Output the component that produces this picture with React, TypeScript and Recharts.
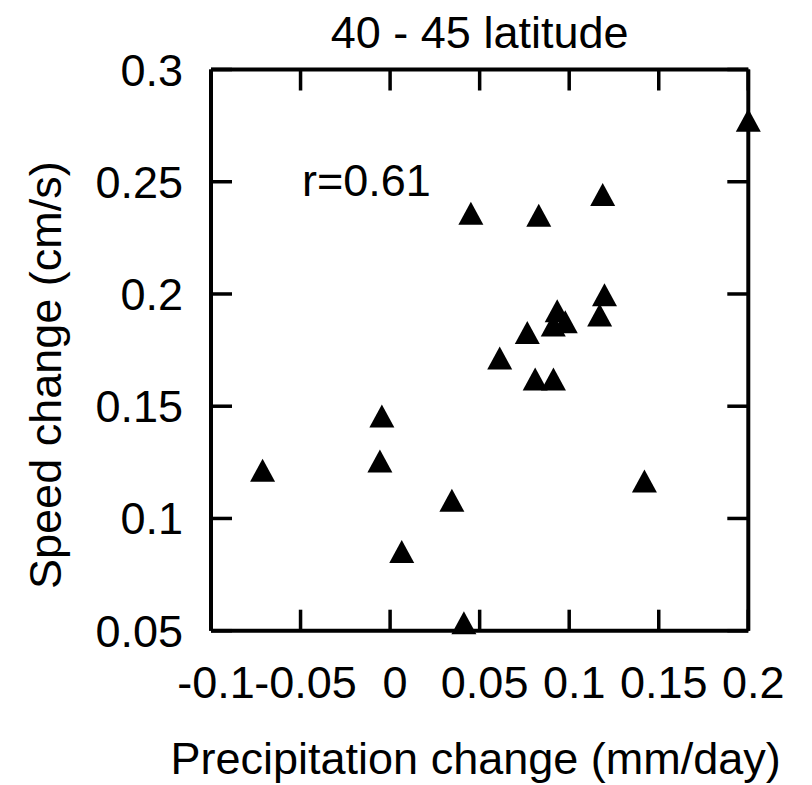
import React from 'react';
import { ScatterChart, Scatter, XAxis, YAxis, ReferenceDot, Label } from 'recharts';

// Data
const precipitation = [0.2, 0.1187, 0.0451, 0.083, 0.1197, 0.117, 0.0933, 0.0911, 0.0978, 0.0766, 0.0612, 0.081, 0.0912, -0.0046, -0.0057, -0.0712, 0.142, 0.0345, 0.0065, 0.0412];
const speed = [0.2774, 0.2443, 0.236, 0.2351, 0.1997, 0.1906, 0.1925, 0.1862, 0.1876, 0.1828, 0.1715, 0.1621, 0.1621, 0.1456, 0.1256, 0.1215, 0.1167, 0.1081, 0.0853, 0.0535];

const xTicks = [-0.1, -0.05, 0, 0.05, 0.1, 0.15, 0.2];
const xTickLabels = ['-0.1', '-0.05', '0', '0.05', '0.1', '0.15', '0.2'];
const yTicks = [0.05, 0.1, 0.15, 0.2, 0.25, 0.3];
const yTickLabels = ['0.05', '0.1', '0.15', '0.2', '0.25', '0.3'];

const title = '40 - 45 latitude';
const xLabel = 'Precipitation change (mm/day)';
const yLabel = 'Speed change (cm/s)';
const annotation = 'r=0.61';
const annotationX = -0.0486;
const annotationY = 0.2432;

const points = precipitation.map((p, i) => ({ p, s: speed[i] }));

const FONT = '"Liberation Sans", Arial, Helvetica, sans-serif';
const FS = 45;
const TICK_LEN = 21;

const findLabel = (vals: number[], labels: string[], v: number) => {
  const i = vals.findIndex((t) => Math.abs(t - v) < 1e-9);
  return i >= 0 ? labels[i] : String(v);
};

const BottomTick = (props: any) => {
  const { x, y, payload } = props;
  const nx = Number(x);
  const ny = Number(y);
  return (
    <g>
      <path d={`M${nx},${ny}L${nx},${ny - TICK_LEN}`} stroke="#000" strokeWidth={3.5} fill="none" />
      <text x={nx + 5} y={ny + 67} textAnchor="middle" fontFamily={FONT} fontSize={FS} fill="#000">
        {findLabel(xTicks, xTickLabels, payload.value)}
      </text>
    </g>
  );
};

const LeftTick = (props: any) => {
  const { x, y, payload } = props;
  const nx = Number(x);
  const ny = Number(y);
  return (
    <g>
      <path d={`M${nx},${ny}L${nx + TICK_LEN},${ny}`} stroke="#000" strokeWidth={3.5} fill="none" />
      <text x={nx - 28} y={ny + 16} textAnchor="end" fontFamily={FONT} fontSize={FS} fill="#000">
        {findLabel(yTicks, yTickLabels, payload.value)}
      </text>
    </g>
  );
};

const Triangle = (props: any) => {
  const { cx, cy } = props;
  if (cx == null || cy == null) return <g />;
  const pts = `${cx},${cy - 11.5} ${cx - 12.5},${cy + 11.5} ${cx + 12.5},${cy + 11.5}`;
  return <polygon points={pts} fill="#000" />;
};

const Empty = () => <g />;

const axisStyle = { stroke: '#000', strokeWidth: 4 };
const tickStyle = { stroke: '#000', strokeWidth: 3.5 };

export default function App() {
  return (
    <div style={{ position: 'absolute', left: 0, top: 0, background: '#fff' }}>
      <ScatterChart width={812} height={785} margin={{ top: 69.5, right: 63.7, bottom: 0, left: 0 }}>
        <XAxis
          xAxisId={0}
          dataKey="p"
          type="number"
          domain={[-0.1, 0.2]}
          ticks={xTicks}
          interval={0}
          height={154.3}
          tickSize={0}
          tickMargin={0}
          tickLine={false}
          axisLine={axisStyle}
          tick={<BottomTick />}
        >
          <Label
            content={(props: any) => {
              const vb = props.viewBox || { x: 211, y: 631, width: 537 };
              return (
                <text x={vb.x + vb.width / 2 - 4} y={vb.y + 143} textAnchor="middle" fontFamily={FONT} fontSize={FS} fill="#000">
                  {xLabel}
                </text>
              );
            }}
          />
        </XAxis>
        <XAxis
          xAxisId="top"
          orientation="top"
          mirror
          dataKey="p"
          type="number"
          domain={[-0.1, 0.2]}
          ticks={xTicks}
          interval={0}
          height={1}
          tickSize={TICK_LEN}
          tick={<Empty />}
          tickLine={tickStyle}
          axisLine={axisStyle}
        >
          <Label
            content={(props: any) => {
              const vb = props.viewBox || { x: 211, y: 69.5, width: 537 };
              return (
                <text x={vb.x + vb.width / 2} y={vb.y - 21.5} textAnchor="middle" fontFamily={FONT} fontSize={FS} fill="#000">
                  {title}
                </text>
              );
            }}
          />
        </XAxis>
        <YAxis
          yAxisId={0}
          dataKey="s"
          type="number"
          domain={[0.05, 0.3]}
          ticks={yTicks}
          interval={0}
          width={211}
          tickSize={0}
          tickMargin={0}
          tickLine={false}
          axisLine={axisStyle}
          tick={<LeftTick />}
        >
          <Label
            content={(props: any) => {
              const vb = props.viewBox || { x: 0, y: 69.5, height: 561 };
              const cx = 61;
              const cy = vb.y + vb.height / 2 + 25;
              return (
                <text x={cx} y={cy} transform={`rotate(-90, ${cx}, ${cy})`} textAnchor="middle" fontFamily={FONT} fontSize={FS} fill="#000">
                  {yLabel}
                </text>
              );
            }}
          />
        </YAxis>
        <YAxis
          yAxisId="right"
          orientation="right"
          mirror
          dataKey="s"
          type="number"
          domain={[0.05, 0.3]}
          ticks={yTicks}
          interval={0}
          width={1}
          tickSize={TICK_LEN}
          tick={<Empty />}
          tickLine={tickStyle}
          axisLine={axisStyle}
        />
        <Scatter data={points} xAxisId="top" yAxisId="right" shape={<Empty />} isAnimationActive={false} />
        <Scatter data={points} xAxisId={0} yAxisId={0} shape={<Triangle />} isAnimationActive={false} />
        <ReferenceDot
          x={annotationX}
          y={annotationY}
          r={1}
          fill="none"
          stroke="none"
          xAxisId={0}
          yAxisId={0}
          label={(props: any) => {
            const vb = props.viewBox || { x: 0, y: 0 };
            return (
              <text x={vb.x} y={vb.y} textAnchor="start" fontFamily={FONT} fontSize={FS} fill="#000">
                {annotation}
              </text>
            );
          }}
        />
      </ScatterChart>
    </div>
  );
}
